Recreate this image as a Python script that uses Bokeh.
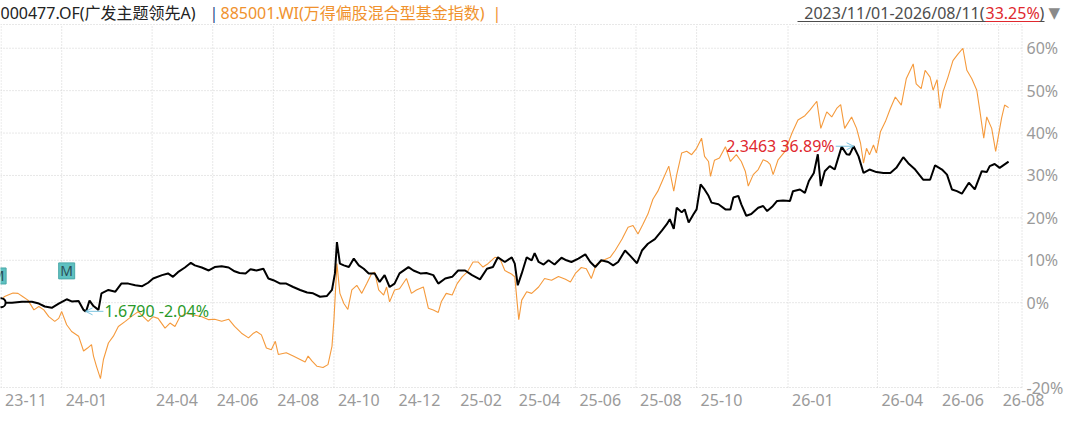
import numpy as np
import pandas as pd
from bokeh.plotting import figure
from bokeh.models import Range1d, Label, LabelSet, ColumnDataSource, Arrow, OpenHead
from bokeh.core.properties import value
from bokeh.embed import file_html
from bokeh.resources import INLINE

# ---------------- data ----------------
start_date = "2023-11-01"
end_date = "2026-08-11"
fund_name = "000477.OF(广发主题领先A)"
index_name = "885001.WI(万得偏股混合型基金指数)"
fund_nav_base = 1.7140

# day offsets from start_date, cumulative return in %
fund_days = [0, 11, 21, 31, 38, 44, 51, 58, 66, 71, 78, 83, 85, 86, 89, 93, 98, 101, 108, 115,
             121, 128, 135, 142, 148, 153, 162, 168, 173, 178, 185, 191, 195, 202, 209, 215, 222,
             229, 235, 240, 246, 251, 257, 264, 269, 274, 281, 287, 294, 301, 308, 314, 321, 328,
             333, 336, 338, 341, 345, 350, 355, 360, 365, 370, 376, 381, 386, 391, 396, 401, 410,
             415, 422, 428, 435, 440, 447, 454, 460, 467, 474, 482, 489, 495, 500, 507, 514, 517,
             520, 524, 529, 534, 537, 541, 546, 551, 557, 564, 569, 574, 581, 588, 593, 598, 604,
             611, 616, 621, 628, 633, 640, 645, 651, 658, 665, 670, 673, 677, 680, 685, 688, 692,
             697, 700, 704, 708, 712, 715, 722, 729, 734, 737, 742, 745, 750, 755, 762, 767, 771,
             776, 781, 787, 794, 797, 804, 809, 813, 818, 822, 825, 829, 834, 839, 843, 846, 851,
             854, 858, 863, 868, 874, 881, 888, 895, 901, 908, 913, 920, 928, 935, 940, 947, 952,
             957, 962, 967, 974, 980, 987, 992, 995, 1000, 1005, 1014]
fund_ret = [0.0, 0.0, 0.2, 0.2, -0.2, -0.9, -1.2, -0.2, 0.8, 0.3, 0.4, -1.7, -2.04, -1.7, 0.5,
            -0.8, -1.7, 2.2, 3.0, 2.6, 4.5, 4.5, 4.1, 3.9, 4.7, 5.7, 6.5, 6.9, 6.1, 7.2, 8.3, 9.4,
            8.8, 8.3, 7.6, 8.4, 8.6, 8.3, 7.4, 7.0, 6.9, 7.9, 7.6, 8.0, 5.7, 5.3, 4.5, 4.5, 3.7,
            3.0, 2.4, 2.2, 1.4, 1.6, 3.0, 6.9, 14.3, 9.2, 8.8, 8.4, 10.4, 8.8, 8.0, 6.9, 6.9, 4.9,
            6.5, 3.7, 4.5, 6.9, 8.4, 7.6, 6.9, 7.0, 6.5, 4.5, 5.7, 6.1, 7.6, 7.6, 6.5, 5.5, 8.0,
            8.4, 10.7, 9.6, 10.7, 9.2, 4.1, 6.9, 10.7, 10.0, 11.7, 9.6, 9.0, 10.0, 9.0, 10.6, 10.0,
            9.6, 10.4, 11.4, 9.6, 8.4, 10.0, 9.6, 8.8, 9.6, 12.3, 11.1, 9.3, 12.3, 13.9, 15.0, 17.0,
            18.5, 19.7, 17.4, 22.4, 21.3, 22.0, 18.9, 20.9, 22.0, 27.9, 26.7, 25.2, 23.6, 23.2,
            22.0, 22.0, 24.8, 25.2, 23.2, 20.5, 20.9, 22.4, 22.8, 21.6, 22.6, 24.0, 24.1, 24.0,
            26.3, 26.7, 25.9, 28.7, 30.6, 35.0, 27.5, 31.0, 32.2, 31.4, 34.5, 36.8, 35.0, 34.9,
            36.89, 34.5, 30.6, 31.4, 30.8, 30.6, 30.6, 31.8, 34.3, 32.9, 31.4, 29.0, 29.0, 32.4,
            31.4, 30.2, 26.7, 26.3, 25.7, 28.3, 26.7, 31.0, 30.8, 32.2, 32.7, 31.8, 33.25]

index_days = [0, 3, 7, 12, 17, 22, 27, 33, 38, 43, 48, 54, 58, 61, 66, 71, 78, 83, 87, 91, 93, 96,
              100, 103, 108, 113, 118, 125, 131, 138, 143, 148, 153, 158, 165, 170, 175, 180, 187,
              194, 202, 209, 215, 222, 229, 235, 242, 249, 254, 257, 262, 267, 272, 276, 279, 287,
              294, 301, 306, 309, 313, 318, 324, 329, 333, 335, 338, 341, 345, 349, 353, 358, 363,
              368, 373, 376, 380, 385, 388, 391, 396, 401, 408, 413, 418, 425, 430, 435, 440, 443,
              448, 454, 459, 464, 469, 475, 480, 485, 490, 497, 502, 507, 514, 517, 521, 524, 529,
              534, 541, 547, 554, 561, 568, 573, 578, 584, 589, 594, 599, 606, 613, 618, 625, 631,
              636, 641, 646, 651, 656, 661, 666, 672, 677, 680, 685, 690, 695, 700, 705, 708, 712,
              714, 718, 723, 729, 734, 740, 745, 749, 752, 757, 762, 767, 771, 774, 777, 782, 789,
              796, 802, 809, 814, 821, 825, 831, 836, 841, 845, 849, 856, 861, 865, 868, 871, 874,
              878, 881, 885, 890, 895, 900, 906, 911, 918, 921, 926, 930, 935, 938, 942, 945, 948,
              953, 958, 963, 968, 972, 977, 982, 985, 989, 992, 997, 1001, 1004, 1007, 1010, 1014]
index_ret = [0.0, 1.4, 1.8, 2.3, 2.2, 1.4, 0.6, -1.7, -0.9, -1.7, -3.3, -4.4, -3.7, -2.1, -5.2,
             -6.8, -7.9, -11.4, -10.7, -9.9, -12.6, -15.0, -17.9, -13.4, -9.5, -7.9, -5.6, -4.4,
             -3.3, -2.1, -3.3, -4.4, -3.3, -3.7, -6.0, -4.8, -5.6, -3.3, -2.5, -2.9, -3.3, -4.0,
             -3.9, -4.4, -3.9, -5.6, -7.2, -8.3, -7.2, -6.8, -7.6, -10.7, -11.1, -9.1, -12.2,
             -11.8, -12.6, -13.4, -14.0, -12.6, -13.8, -15.0, -15.3, -14.6, -10.3, -4.0, 9.2, 2.2,
             -0.2, -1.6, 3.0, 4.1, 2.2, 4.5, 6.9, 7.2, 3.0, 1.8, 3.7, 0.2, 3.0, 3.3, 5.7, 2.2, 3.0,
             3.7, -1.3, -1.7, -2.3, 0.2, 2.2, 1.8, 4.5, 6.1, 7.2, 9.6, 9.6, 8.4, 9.2, 10.7, 10.4,
             7.6, 6.7, 6.1, -4.0, 0.6, 2.6, 2.2, 3.7, 5.7, 5.3, 6.2, 5.5, 4.9, 6.9, 8.3, 8.0, 5.7,
             9.0, 10.0, 10.7, 12.3, 15.0, 17.8, 18.2, 16.2, 18.5, 20.9, 24.4, 26.3, 29.0, 32.2,
             26.3, 30.2, 35.3, 35.7, 34.9, 36.4, 38.8, 34.5, 33.3, 29.8, 33.6, 34.1, 36.8, 33.3,
             34.9, 33.3, 31.0, 27.5, 30.2, 31.4, 33.7, 33.3, 32.6, 30.2, 33.7, 35.7, 40.0, 43.1,
             44.1, 45.4, 47.5, 41.1, 45.0, 43.8, 45.8, 46.7, 41.1, 43.8, 41.1, 37.6, 32.9, 36.4,
             34.9, 37.2, 35.3, 40.3, 42.7, 45.8, 48.5, 46.6, 52.8, 56.3, 51.6, 50.5, 54.8, 53.2,
             50.1, 52.6, 45.8, 49.7, 53.2, 57.1, 58.6, 60.0, 54.8, 52.8, 50.1, 45.4, 38.8, 43.8,
             41.1, 35.7, 39.7, 43.6, 46.6, 46.0]

tick_dates = ["2023-11-01", "2024-01-01", "2024-04-01", "2024-06-01", "2024-08-01",
              "2024-10-01", "2024-12-01", "2025-02-01", "2025-04-01", "2025-06-01",
              "2025-08-01", "2025-10-01", "2026-01-01", "2026-04-01", "2026-06-01", "2026-08-01"]
tick_labels = ["23-11", "24-01", "24-04", "24-06", "24-08", "24-10", "24-12", "25-02", "25-04",
               "25-06", "25-08", "25-10", "26-01", "26-04", "26-06", "26-08"]
y_ticks = [-20, 0, 10, 20, 30, 40, 50, 60]
y_tick_labels = ["-20%", "0%", "10%", "20%", "30%", "40%", "50%", "60%"]

event_days = [-3, 66]
event_levels = [6.3, 7.5]
event_labels = ["M", "M"]

# ---------------- layout helpers ----------------
t0 = pd.Timestamp(start_date)


def ms(day):
    return (t0 + pd.Timedelta(days=float(day))).value / 1e6


FONT = "'Noto Sans', 'Noto Sans CJK SC', 'DejaVu Sans'"
GRAY = "#9a9a9a"
GRID = "#d0d0d0"
ORANGE = "#F59A3C"

W, H = 1064, 407                 # frame = whole canvas
DATA_L, DATA_R = 0, 1022         # canvas columns of the plotting area
DATA_TOP, DATA_BOT = 24, 387     # canvas rows of the plotting area
D_START, D_END = -0.6, 1028.0    # day range across the plotting area
Y_TOP, Y_BOT = 65.6, -20.0
ppu = (DATA_BOT - DATA_TOP) / (Y_TOP - Y_BOT)
y_max = Y_TOP + DATA_TOP / ppu
y_min = Y_BOT - (H - DATA_BOT) / ppu
ppd = (DATA_R - DATA_L) / (D_END - D_START)
X0 = ms(D_START)
X1 = ms(D_START + W / ppd)


def cx(px):
    return X0 + px / W * (X1 - X0)


def cy(py):
    return y_max - py / H * (y_max - y_min)


p = figure(frame_width=W, frame_height=H, x_axis_type="datetime",
           output_backend="svg", toolbar_location=None,
           min_border_left=0, min_border_right=0, min_border_top=0, min_border_bottom=0)
p.x_range = Range1d(start=X0, end=X1)
p.y_range = Range1d(start=y_min, end=y_max)
p.background_fill_color = "white"
p.border_fill_color = "white"
p.outline_line_color = None
p.axis.visible = False
p.grid.visible = False

# dotted grid + top/right border of the plotting area
tick_ms = [pd.Timestamp(d).value / 1e6 for d in tick_dates]
x_edge = cx(DATA_R - 0.5)
p.segment(x0=tick_ms, y0=Y_BOT, x1=tick_ms, y1=Y_TOP, line_color=GRID, line_dash="1 2")
p.segment(x0=X0, y0=y_ticks, x1=x_edge, y1=y_ticks, line_color=GRID, line_dash="1 2")
p.segment(x0=[X0, x_edge], y0=[Y_TOP, Y_BOT], x1=[x_edge, x_edge], y1=[Y_TOP, Y_TOP],
          line_color=GRID, line_dash="1 2")

# x tick labels, left-aligned at gridlines
xl_src = ColumnDataSource(dict(x=tick_ms, text=tick_labels))
p.add_layout(LabelSet(x="x", y=cy(DATA_BOT + 12), text="text", source=xl_src,
                      x_offset=4, text_align="left", text_baseline="middle",
                      text_color=GRAY, text_font=value("Noto Sans"), text_font_size="16px"))
# y tick labels on the right
yl_src = ColumnDataSource(dict(y=y_ticks, text=y_tick_labels))
p.add_layout(LabelSet(x=cx(DATA_R + 4), y="y", text="text", source=yl_src,
                      text_align="left", text_baseline="middle",
                      text_color=GRAY, text_font=value("Noto Sans"), text_font_size="16px"))

# series
fund_x = [ms(d) for d in fund_days]
index_x = [ms(d) for d in index_days]
p.line(index_x, index_ret, line_color=ORANGE, line_width=1.1)
p.line(fund_x, fund_ret, line_color="black", line_width=2)
p.scatter([fund_x[0]], [fund_ret[0]], size=9, marker="circle", line_color="black",
          line_width=2, fill_color="white")

# event markers
ev_x = [ms(d) for d in event_days]
p.rect(ev_x, event_levels, width=16, height=16, width_units="screen", height_units="screen",
       fill_color="#5fc1c1", line_color="#4aa9a9")
p.text(ev_x, event_levels, text=event_labels, text_font=value("Noto Sans"),
       text_font_size="14px", text_align="center", text_baseline="middle", text_color="#2b4f57")

# min / max annotations
fa = np.array(fund_ret)
i_min, i_max = int(np.argmin(fa)), int(np.argmax(fa))
ARROW = "#7cc4e0"
for i, side, color in [(i_min, 1, "#2a9a2a"), (i_max, -1, "#e0282e")]:
    d, v = fund_days[i], fund_ret[i]
    nav = fund_nav_base * (1 + v / 100)
    p.add_layout(Arrow(end=OpenHead(size=7, line_color=ARROW, line_width=1),
                       x_start=ms(d + side * 18), y_start=v, x_end=ms(d), y_end=v,
                       line_color=ARROW, line_width=1))
    p.add_layout(Label(x=ms(d), y=v, x_offset=side * 19, text=f"{nav:.4f} {v:.2f}%",
                       text_align="left" if side > 0 else "right", text_baseline="middle",
                       text_color=color, text_font="Noto Sans", text_font_size="16px"))

# header
hy = cy(12)
DATE_R = 984
hdr = [
    (0, fund_name, "#222222", "left"),
    (209, "|", "#1f4e8c", "left"),
    (220, index_name, "#F0922E", "left"),
    (492, "|", "#F0922E", "left"),
    (DATE_R, f"{start_date.replace('-', '/')}-{end_date.replace('-', '/')}(", "#4d4d4d", "right"),
    (DATE_R + 1, f"{fund_ret[-1]:.2f}%", "#e0282e", "left"),
    (DATE_R + 55, ")", "#4d4d4d", "left"),
]
for x, t, c, a in hdr:
    p.add_layout(Label(x=cx(x), y=hy, text=t, text_color=c, text_align=a,
                       text_baseline="middle", text_font=FONT, text_font_size="16px"))
p.add_layout(Label(x=cx(DATE_R + 64), y=hy, text="▼", text_color="#8a8a8a", text_align="left",
                   text_baseline="middle", text_font="DejaVu Sans", text_font_size="15px"))
# underline of the date range
uy = cy(21)
p.segment(x0=[cx(DATE_R - 187), cx(DATE_R + 1)], y0=[uy, uy],
          x1=[cx(DATE_R + 60), cx(DATE_R + 55)], y1=[uy, uy],
          line_color=["#4d4d4d", "#e0282e"], line_width=1)

open("out.html", "w").write(file_html(p, INLINE))
